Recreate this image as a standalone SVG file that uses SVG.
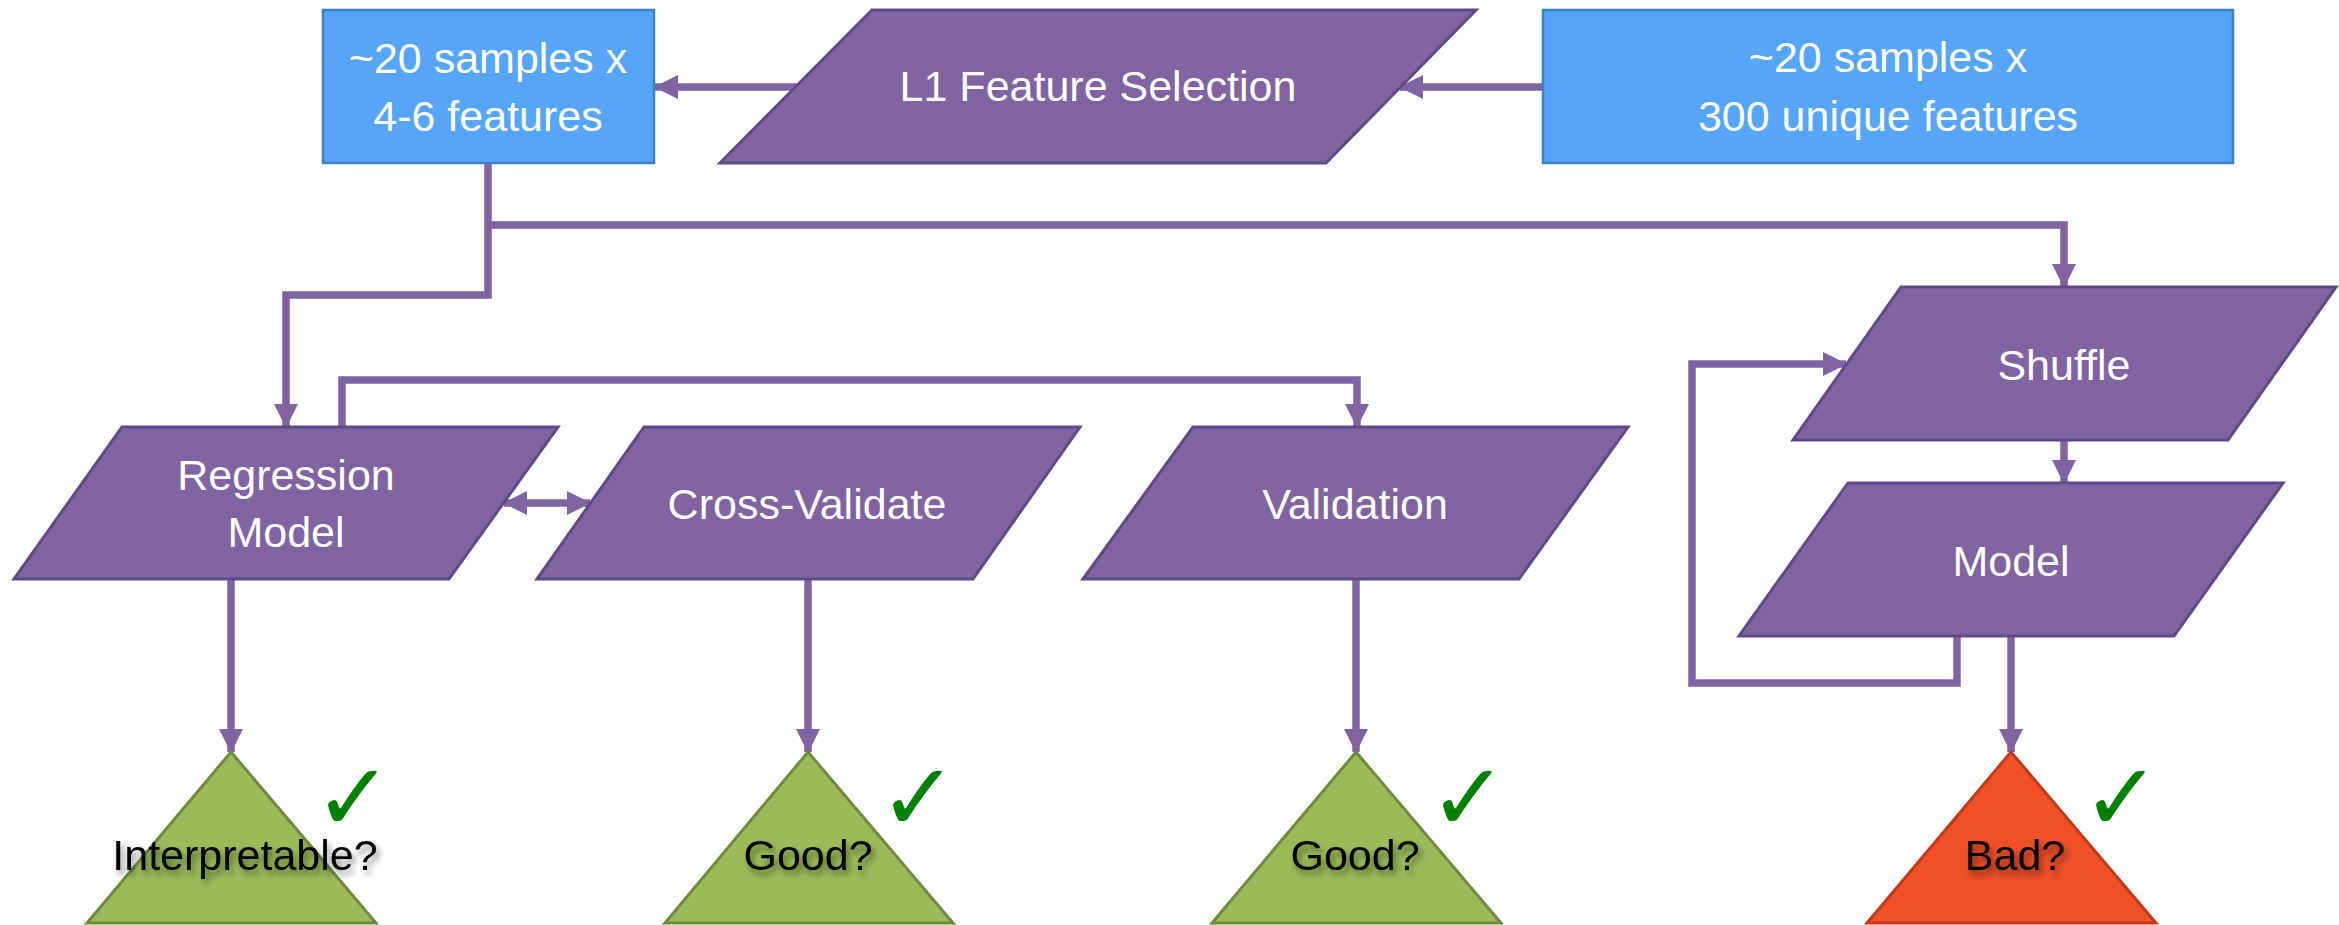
<svg xmlns="http://www.w3.org/2000/svg" width="2339" height="925" viewBox="0 0 2339 925">
<style>
.blue{fill:#56A5F8;stroke:#3F7FC4;stroke-width:2.5}
.proc{fill:#8064A2;stroke:#5E4A86;stroke-width:3}
.tri-g{fill:#9BBB59;stroke:#71893F;stroke-width:3}
.tri-r{fill:#EF5026;stroke:#C0391A;stroke-width:3}
.wt{font-family:"Liberation Sans",Arial,sans-serif;font-size:43px;fill:#FFFFFF;text-anchor:middle}
.bt{font-family:"Liberation Sans",Arial,sans-serif;font-size:43px;fill:#000000;text-anchor:middle;filter:url(#sh)}
.chk{font-family:"DejaVu Sans",sans-serif;font-size:94px;font-weight:bold;fill:#008000}
.con{fill:none;stroke:#8064A2;stroke-width:7.5}
</style>
<defs>
<marker id="ah" viewBox="0 0 24 24" markerWidth="24" markerHeight="24" refX="23" refY="12" orient="auto" markerUnits="userSpaceOnUse">
<path d="M0,0 L24,12 L0,24 z" fill="#8064A2"/>
</marker>
<marker id="as" viewBox="0 0 24 24" markerWidth="24" markerHeight="24" refX="1" refY="12" orient="auto" markerUnits="userSpaceOnUse">
<path d="M24,0 L0,12 L24,24 z" fill="#8064A2"/>
</marker>
<filter id="sh" x="-20%" y="-30%" width="140%" height="170%">
<feDropShadow dx="3" dy="5" stdDeviation="3" flood-color="#000" flood-opacity="0.45"/>
</filter>
</defs>
<rect width="2339" height="925" fill="#FFFFFF"/>

<g id="connectors">
<path class="con" d="M797,87 H655" marker-end="url(#ah)"/>
<path class="con" d="M1542,87 H1400" marker-end="url(#ah)"/>
<path class="con" d="M488,163 V295 H286 V427" marker-end="url(#ah)"/>
<path class="con" d="M488,225 H2064 V287" marker-end="url(#ah)"/>
<path class="con" d="M342,427 V380 H1357 V427" marker-end="url(#ah)"/>
<path class="con" d="M504,503 H590" marker-start="url(#as)" marker-end="url(#ah)"/>
<path class="con" d="M2064,440 V483" marker-end="url(#ah)"/>
<path class="con" d="M1957,636 V683 H1692 V364 H1846" marker-end="url(#ah)"/>
<path class="con" d="M231,579 V752" marker-end="url(#ah)"/>
<path class="con" d="M808,579 V752" marker-end="url(#ah)"/>
<path class="con" d="M1356,579 V752" marker-end="url(#ah)"/>
<path class="con" d="M2011,636 V752" marker-end="url(#ah)"/>
</g>

<g id="box-small">
<rect class="blue" x="323" y="10" width="331" height="153"/>
<text class="wt" x="488" y="73">~20 samples x</text>
<text class="wt" x="488" y="131">4-6 features</text>
</g>

<g id="l1-selection">
<polygon class="proc" points="872,10 1476,10 1326,163 720,163"/>
<text class="wt" x="1098" y="101">L1 Feature Selection</text>
</g>

<g id="box-large">
<rect class="blue" x="1543" y="10" width="690" height="153"/>
<text class="wt" x="1888" y="72">~20 samples x</text>
<text class="wt" x="1888" y="131">300 unique features</text>
</g>

<g id="regression">
<polygon class="proc" points="122,427 558,427 449,579 14,579"/>
<text class="wt" x="286" y="490">Regression</text>
<text class="wt" x="286" y="547">Model</text>
</g>

<g id="cross-validate">
<polygon class="proc" points="644,427 1080,427 973,579 537,579"/>
<text class="wt" x="807" y="519">Cross-Validate</text>
</g>

<g id="validation">
<polygon class="proc" points="1193,427 1628,427 1519,579 1083,579"/>
<text class="wt" x="1355" y="519">Validation</text>
</g>

<g id="shuffle">
<polygon class="proc" points="1901,287 2336,287 2228,440 1793,440"/>
<text class="wt" x="2064" y="380">Shuffle</text>
</g>

<g id="model">
<polygon class="proc" points="1848,483 2283,483 2174,636 1739,636"/>
<text class="wt" x="2011" y="576">Model</text>
</g>

<g id="interpretable">
<polygon class="tri-g" points="231,752 376,923 87,923"/>
<text class="bt" x="245" y="870">Interpretable?</text>
<text class="chk" x="314" y="830">✓</text>
</g>

<g id="good-cv">
<polygon class="tri-g" points="808,752 953,923 665,923"/>
<text class="bt" x="808" y="870">Good?</text>
<text class="chk" x="879" y="830">✓</text>
</g>

<g id="good-val">
<polygon class="tri-g" points="1356,752 1501,923 1212,923"/>
<text class="bt" x="1355" y="870">Good?</text>
<text class="chk" x="1429" y="830">✓</text>
</g>

<g id="bad">
<polygon class="tri-r" points="2011,752 2156,923 1867,923"/>
<text class="bt" x="2015" y="870">Bad?</text>
<text class="chk" x="2082" y="830">✓</text>
</g>
</svg>
